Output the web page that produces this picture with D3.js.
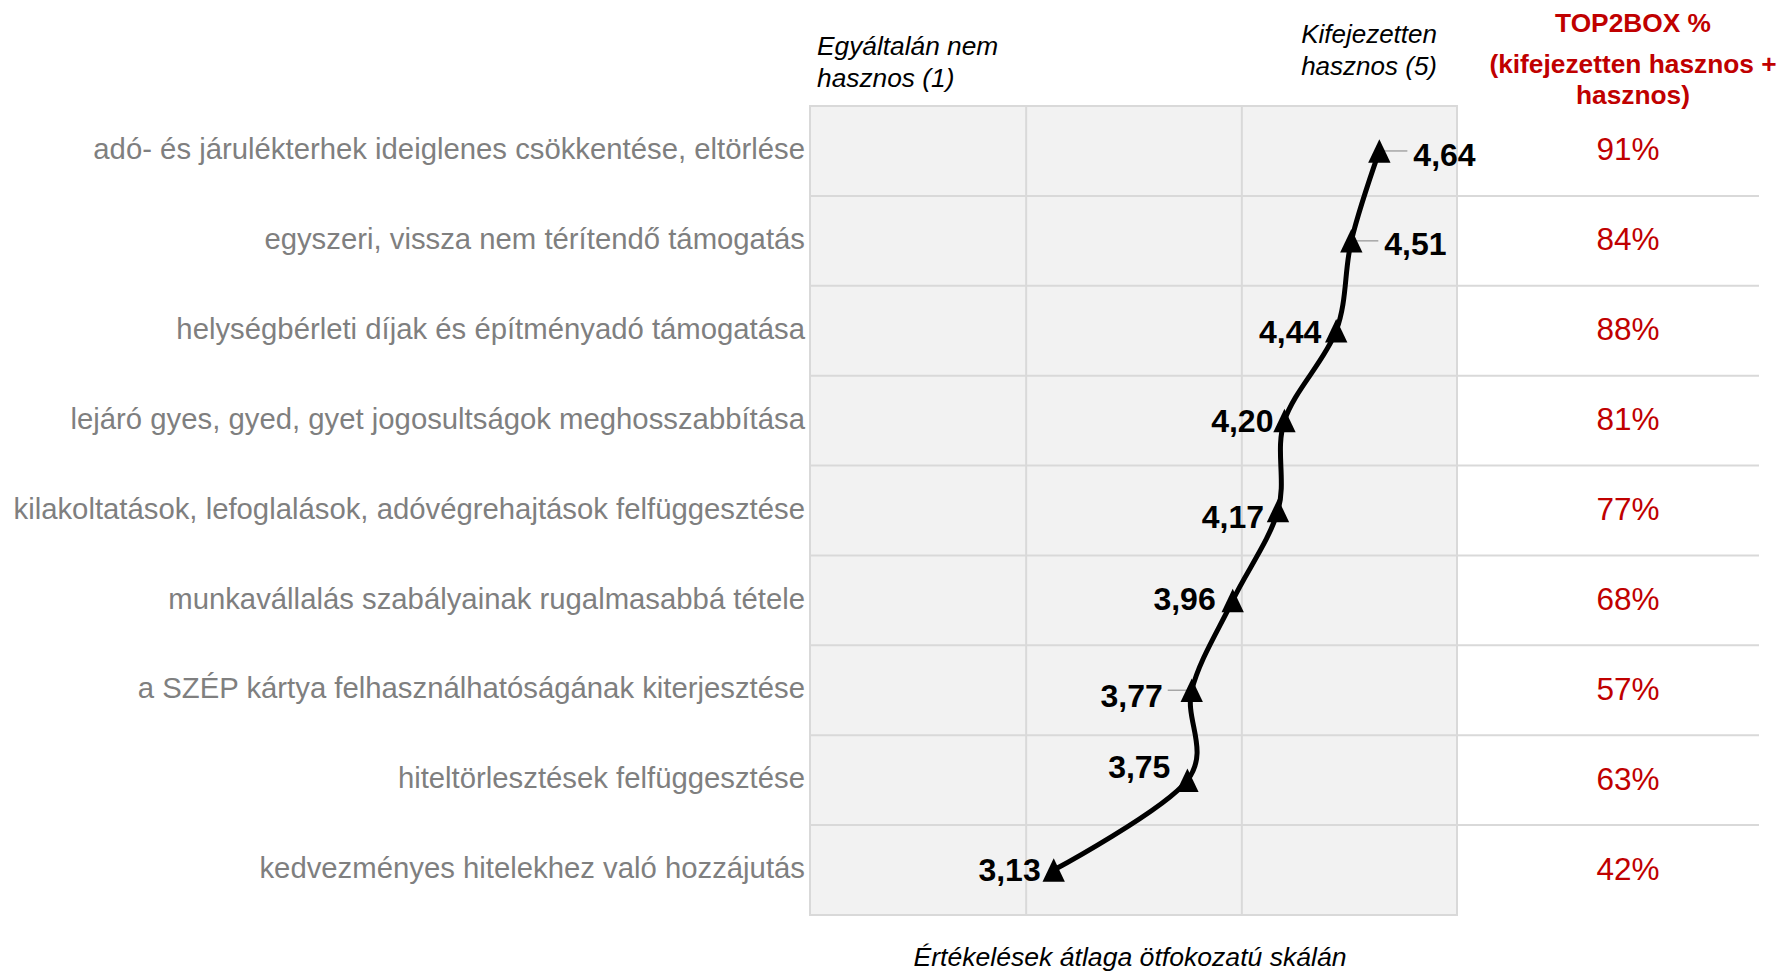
<!DOCTYPE html>
<html><head><meta charset="utf-8">
<script src="https://cdn.jsdelivr.net/npm/d3@7"></script>
<style>body{margin:0;background:#fff;} svg{display:block;font-family:Arial,"Liberation Sans",sans-serif;}</style>
</head><body><svg id="chart" width="1785" height="973"></svg>
<script>
// ---- data ----
const categories = [
  "adó- és járulékterhek ideiglenes csökkentése, eltörlése",
  "egyszeri, vissza nem térítendő támogatás",
  "helységbérleti díjak és építményadó támogatása",
  "lejáró gyes, gyed, gyet jogosultságok meghosszabbítása",
  "kilakoltatások, lefoglalások, adóvégrehajtások felfüggesztése",
  "munkavállalás szabályainak rugalmasabbá tétele",
  "a SZÉP kártya felhasználhatóságának kiterjesztése",
  "hiteltörlesztések felfüggesztése",
  "kedvezményes hitelekhez való hozzájutás"
];
const means = [4.64, 4.51, 4.44, 4.20, 4.17, 3.96, 3.77, 3.75, 3.13];
const top2box = [91, 84, 88, 81, 77, 68, 57, 63, 42];
const xDomain = [2, 5];
const xGridTicks = [3, 4];
const scaleLowLabel = ["Egyáltalán nem", "hasznos (1)"];
const scaleHighLabel = ["Kifejezetten", "hasznos (5)"];
const top2boxHeader = ["TOP2BOX %", "(kifejezetten hasznos +", "hasznos)"];
const axisTitle = "Értékelések átlaga ötfokozatú skálán";

// ---- label placement (styling only) ----
const labelPlacement = [
  {anchor:"start", dx:34, dy:15, leader:true},
  {anchor:"start", dx:33, dy:14, leader:true},
  {anchor:"end", dx:-15, dy:12, leader:false},
  {anchor:"end", dx:-11, dy:11, leader:false},
  {anchor:"end", dx:-14, dy:17, leader:false},
  {anchor:"end", dx:-17, dy:10, leader:false},
  {anchor:"end", dx:-29, dy:17, leader:true},
  {anchor:"end", dx:-17, dy:-2, leader:false},
  {anchor:"end", dx:-13, dy:11, leader:false}
];

const svg = d3.select("#chart");
const L = 810, R = 1457, T = 106, B = 915, gridRight = 1759;
const x = d3.scaleLinear().domain(xDomain).range([L, R]);
const y = d3.scaleBand().domain(categories).range([T, B]);
const cy = c => y(c) + y.bandwidth() / 2;
const grid = "#D9D9D9";

// plot background
svg.append("rect").attr("x", L).attr("y", T).attr("width", R - L).attr("height", B - T)
  .attr("fill", "#F2F2F2");

// vertical gridlines via axis
const gx = svg.append("g").attr("transform", `translate(0,${B})`)
  .call(d3.axisBottom(x).tickValues(xGridTicks).tickSize(-(B - T)).tickFormat(""));
gx.select(".domain").remove();
gx.selectAll("line").attr("stroke", grid).attr("stroke-width", 2);

// horizontal gridlines (band boundaries), extending into the TOP2BOX column
svg.append("g").selectAll("line").data(categories.slice(1)).join("line")
  .attr("x1", L).attr("x2", gridRight)
  .attr("y1", d => y(d)).attr("y2", d => y(d))
  .attr("stroke", grid).attr("stroke-width", 2);

// plot border
svg.append("rect").attr("x", L).attr("y", T).attr("width", R - L).attr("height", B - T)
  .attr("fill", "none").attr("stroke", grid).attr("stroke-width", 2);

// category labels via axis
const gy = svg.append("g").attr("transform", `translate(${L},0)`)
  .call(d3.axisLeft(y).tickSize(0).tickPadding(5));
gy.select(".domain").remove();
gy.selectAll("text").attr("font-size", 29.3).attr("fill", "#7F7F7F").attr("dy", "0.28em")
  .attr("font-family", "Arial, 'Liberation Sans', sans-serif");

// scale end labels
const low = svg.append("text").attr("font-size", 26.3).attr("font-style", "italic").attr("fill", "#000");
scaleLowLabel.forEach((t, i) => low.append("tspan").attr("x", 817).attr("y", 55 + i * 32).text(t));
const high = svg.append("text").attr("text-anchor", "end").attr("font-size", 26).attr("font-style", "italic").attr("fill", "#000");
scaleHighLabel.forEach((t, i) => high.append("tspan").attr("x", 1437).attr("y", 43 + i * 32).text(t));

// TOP2BOX header
const hdr = svg.append("g").attr("fill", "#C00000").attr("font-weight", "bold").attr("font-size", 26.3)
  .attr("text-anchor", "middle");
top2boxHeader.forEach((t, i) => hdr.append("text").attr("x", 1633).attr("y", [32, 73, 104][i]).text(t));

// TOP2BOX values
svg.append("g").selectAll("text").data(categories).join("text")
  .attr("x", 1628).attr("y", c => cy(c)).attr("dy", "0.3em")
  .attr("text-anchor", "middle").attr("font-size", 31.5).attr("fill", "#C00000")
  .text((c, i) => top2box[i] + "%");

// smooth line
const pts = categories.map((c, i) => [x(means[i]), cy(c)]);
svg.append("path").datum(pts)
  .attr("d", d3.line().curve(d3.curveCardinal.tension(0)))
  .attr("fill", "none").attr("stroke", "#000").attr("stroke-width", 5)
  .attr("stroke-linejoin", "round");

// leader lines
const fmt = v => d3.format(".2f")(v).replace(".", ",");
svg.append("g").selectAll("line").data(categories.filter((c, i) => labelPlacement[i].leader)).join("line")
  .each(function(c) {
    const i = categories.indexOf(c), p = labelPlacement[i];
    const px = x(means[i]), py = cy(c);
    const x2 = p.anchor === "start" ? px + p.dx - 6 : px + p.dx + 5;
    d3.select(this).attr("x1", px).attr("y1", py).attr("x2", x2).attr("y2", py);
  })
  .attr("stroke", "#A6A6A6").attr("stroke-width", 1.5);

// triangle markers (slightly taller than equilateral, bbox-centred)
const tallTriangle = {
  draw(ctx, size) {
    const w = Math.sqrt(size), h = w * 1.05;
    ctx.moveTo(0, -h / 2);
    ctx.lineTo(w / 2, h / 2);
    ctx.lineTo(-w / 2, h / 2);
    ctx.closePath();
  }
};
svg.append("g").selectAll("path").data(categories).join("path")
  .attr("transform", (c, i) => `translate(${x(means[i])},${cy(c)})`)
  .attr("d", d3.symbol(tallTriangle, 500))
  .attr("fill", "#000");

// value labels
svg.append("g").selectAll("text").data(categories).join("text")
  .attr("x", (c, i) => x(means[i]) + labelPlacement[i].dx)
  .attr("y", (c, i) => cy(c) + labelPlacement[i].dy)
  .attr("text-anchor", (c, i) => labelPlacement[i].anchor)
  .attr("font-size", 32).attr("font-weight", "bold").attr("fill", "#000")
  .text((c, i) => fmt(means[i]));

// axis title
svg.append("text").attr("x", 1130).attr("y", 966).attr("text-anchor", "middle")
  .attr("font-size", 26.6).attr("font-style", "italic").attr("fill", "#000").text(axisTitle);
</script></body></html>
